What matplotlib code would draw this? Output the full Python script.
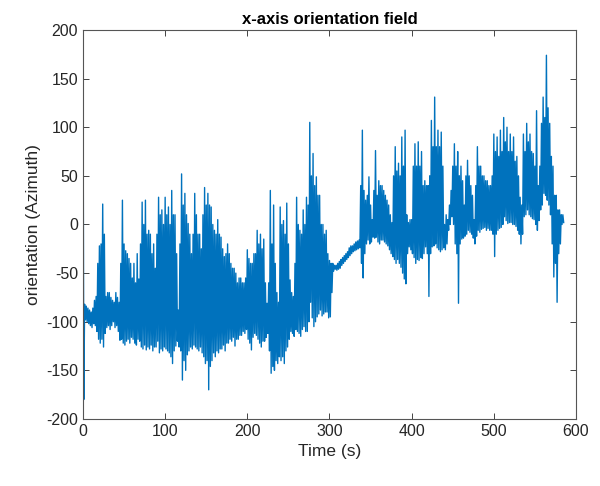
import numpy as np
import matplotlib.pyplot as plt

plt.rcParams['font.family'] = ['Liberation Sans', 'DejaVu Sans']
plt.rcParams['axes.unicode_minus'] = False

t = np.arange(0, 586)
orientation = [
    180, -180, -82, -98, -84, -100, -86, -102, -88, -104, -90, -106, -86, -102, -78, -104, -74, -110, -40, -118,
    -22, -122, -20, -118, 21, -126, -10, -112, -74, -106, -70, -104, -70, -108, -75, -104, -78, -100, -80, -106,
    -70, -104, -75, -110, -80, -119, -40, -118, 25, -122, -20, -124, -27, -120, -30, -118, -35, -122, -40, -116,
    -55, -118, -40, -122, -60, -124, -30, -118, -56, -120, -20, -126, 23, -128, 0, -124, 25, -129, -10, -126,
    -6, -128, -10, -124, -30, -130, -20, -126, -45, -126, -10, -120, 28, -132, 10, -128, 15, -130, 0, -126,
    28, -128, 10, -130, 18, -132, 0, -136, 35, -143, 10, -130, 10, -125, -30, -120, -88, -126, -20, -130,
    52, -160, 20, -140, 32, -150, 10, -134, 1, -130, -10, -126, -30, -128, -10, -124, 32, -126, 10, -128,
    -10, -130, -10, -126, -25, -132, 10, -136, 38, -143, 20, -140, 32, -170, 20, -146, 18, -140, 0, -132,
    -6, -136, -10, -130, 5, -132, -10, -128, -13, -128, -25, -124, -33, -130, -30, -122, -20, -122, -30, -118,
    -40, -120, -45, -116, -45, -125, -50, -118, -60, -118, -55, -114, -55, -114, -60, -110, -60, -112, -55, -108,
    -26, -118, -35, -122, -40, -129, -40, -116, -30, -112, -30, -114, -6, -118, -20, -122, -10, -126, -25, -120,
    -15, -120, -60, -116, -81, -112, -60, -130, 35, -153, -20, -146, 20, -150, -40, -140, -70, -143, -80, -136,
    18, -140, 0, -136, 4, -143, -10, -130, 22, -126, -20, -118, -57, -110, -70, -112, -74, -115, -40, -108,
    28, -110, 0, -112, -6, -115, -10, -108, 15, -105, 0, -110, 28, -110, 20, -100, 105, -80, 50, -96,
    73, -105, 40, -100, 49, -95, 30, -92, 30, -88, 0, -94, 0, -92, -10, -90, -6, -90, -30, -96,
    -37, -95, -40, -70, -40, -48, -42, -46, -42, -47, -40, -46, -38, -45, -36, -42, -34, -40, -32, -38,
    -30, -36, -28, -34, -24, -32, -22, -30, -22, -28, -20, -27, -18, -26, -17, -25, -16, -24, 40, -40,
    97, -55, 35, -30, 25, -20, 30, -16, 49, -20, 20, -18, 5, -13, 35, -14, 76, -13, 30, -18,
    45, -20, 40, -16, 40, -16, 35, -18, 30, -20, 25, -22, 20, -26, 10, -30, 2, -33, 50, -36,
    80, -40, 55, -36, 63, -40, 50, -44, 90, -50, 60, -56, 97, -61, 10, -30, 2, -23, 5, -26,
    5, -30, 60, -34, 83, -40, 60, -36, 85, -37, 60, -34, 75, -35, 40, -30, 45, -23, 40, -30,
    40, -74, 50, -30, 107, -23, 80, -22, 131, -20, 80, -24, 97, -26, 80, -28, 95, -26, 60, -24,
    0, -26, 10, -20, 5, -6, 20, 0, 35, 8, 60, 0, 83, -20, 60, -30, 75, -81, 50, -20,
    60, -15, 45, -14, 20, -12, 50, -10, 66, -6, 50, -8, 40, -10, 30, -14, 5, -20, 40, -12,
    80, -6, 60, -8, 60, -5, 50, -4, 50, -3, 45, -6, 45, -4, 40, -6, 40, -6, 50, -10,
    93, -33, 75, -10, 90, -6, 70, -4, 97, -3, 75, 0, 110, 8, 85, 4, 100, 1, 75, 2,
    93, 2, 75, 0, 90, 0, 65, -2, 70, -6, 50, -10, 28, -20, 20, -10, 93, 8, 75, 10,
    104, 15, 85, 10, 93, 8, 75, 6, 73, 5, 60, 0, 117, -6, 40, 4, 60, 15, 104, 20,
    131, 32, 110, 30, 174, 25, 120, 20, 104, 10, 70, -20, 60, -54, 30, -40, 30, -80, 15, -30,
    15, -20, 10, 0, 10, 2,
]

fig, ax = plt.subplots(figsize=(6, 4.86), dpi=100)
fig.subplots_adjust(left=0.1383, right=0.96, bottom=0.1379, top=0.9383)

ax.plot(t, orientation, color='#0072BD', linewidth=1.0)

ax.set_xlim(0, 600)
ax.set_ylim(-200, 200)
ax.set_xticks(range(0, 601, 100))
ax.set_yticks(range(-200, 201, 50))
ax.tick_params(direction='in', length=4, width=0.6, colors='#262626',
               labelsize=11.5, top=True, right=True)
for s in ax.spines.values():
    s.set_color('#555555')
    s.set_linewidth(0.8)

ax.set_title('x-axis orientation field', fontsize=12, fontweight='bold', pad=4)
ax.set_xlabel('Time (s)', fontsize=12.5, color='#262626')
ax.set_ylabel('orientation (Azimuth)', fontsize=12.5, color='#262626')

fig.savefig('out.png')
